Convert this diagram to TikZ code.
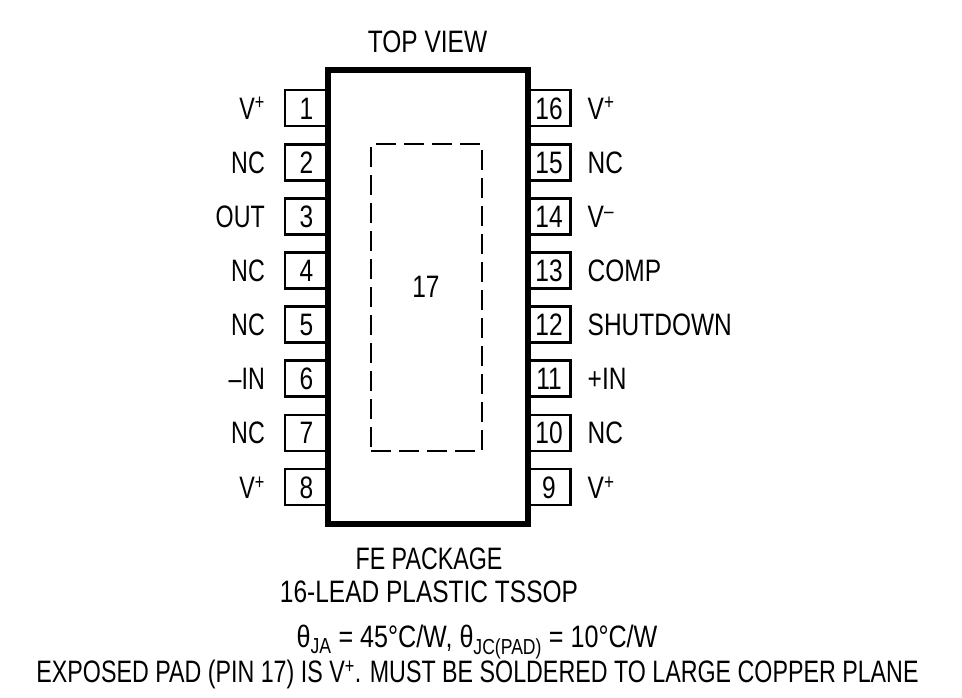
\documentclass[tikz,border=0pt]{standalone}
\usepackage{fontspec}
\setmainfont{Liberation Sans}[FakeStretch=0.79]
\newfontfamily\notefont{Liberation Sans}[FakeStretch=0.75]
\newfontfamily\thetafont{Liberation Sans}[FakeStretch=0.81]
\usetikzlibrary{positioning}
\tikzstyle{pinbox}=[rectangle, draw=black, line width=2.7pt, minimum width=43pt, minimum height=36pt, inner sep=0pt, outer sep=0pt, font=\fontsize{31}{31}\selectfont, text height=22pt, text depth=0pt]
\tikzstyle{rlabel}=[xshift=-3pt, font=\fontsize{31}{31}\selectfont]
\tikzstyle{body}=[rectangle, draw=black, fill=white, line width=6pt, minimum width=200pt, minimum height=453.5pt, inner sep=0pt]
\tikzstyle{pad}=[rectangle, draw=black, line width=2.2pt, dash pattern=on 20pt off 8pt, minimum width=111pt, minimum height=307pt, inner sep=0pt]
\tikzstyle{caption}=[font=\fontsize{31}{31}\selectfont, inner sep=0pt]
\tikzstyle{note}=[font=\notefont\fontsize{31}{31}\selectfont, inner sep=0pt]

\begin{document}
\begin{tikzpicture}[x=1pt, y=-1pt, node distance=54.15pt, label distance=20pt,
    every label/.style={font=\notefont\fontsize{31}{31}\selectfont, inner sep=0pt, text height=22pt, text depth=0pt}]
      \useasboundingbox (0,0) rectangle (962,697);

      \node[pinbox] (p1) [label=left:V\textsuperscript{+}] at (306.5,108) {1};
      \node[pinbox] (p2) [below of=p1,label=left:NC] {2};
      \node[pinbox] (p3) [below of=p2,label=left:OUT] {3};
      \node[pinbox] (p4) [below of=p3,label=left:NC] {4};
      \node[pinbox] (p5) [below of=p4,label=left:NC] {5};
      \node[pinbox] (p6) [below of=p5,label=left:–IN] {6};
      \node[pinbox] (p7) [below of=p6,label=left:NC] {7};
      \node[pinbox] (p8) [below of=p7,label=left:V\textsuperscript{+}] {8};

      \node[pinbox] (p16) [label={[rlabel]right:V\textsuperscript{+}}] at (549,108) {16};
      \node[pinbox] (p15) [below of=p16,label={[rlabel]right:NC}] {15};
      \node[pinbox] (p14) [below of=p15,label={[rlabel]right:V\textsuperscript{–}}] {14};
      \node[pinbox] (p13) [below of=p14,label={[rlabel]right:COMP}] {13};
      \node[pinbox] (p12) [below of=p13,label={[rlabel]right:SHUTDOWN}] {12};
      \node[pinbox] (p11) [below of=p12,label={[rlabel]right:+IN}] {11};
      \node[pinbox] (p10) [below of=p11,label={[rlabel]right:NC}] {10};
      \node[pinbox] (p9) [below of=p10,label={[rlabel]right:V\textsuperscript{+}}] {9};

      \node[body] (chip) at (428,297) {};
      \node[pad] (pad17) at (426.5,297.5) {};
      \node[caption] (num17) at (426,287) {17};

      \node[caption] (topview) at (427.5,42) {TOP VIEW};
      \node[note] (package) at (429,559) {FE PACKAGE};
      \node[caption] (lead) at (429,592) {16-LEAD PLASTIC TSSOP};
      \node[caption,font=\thetafont\fontsize{31}{31}\selectfont] (theta) at (477,642) {θ\textsubscript{JA} = 45°C/W, θ\textsubscript{JC(PAD)} = 10°C/W};
      \node[note] (exposed) at (477.5,674) {EXPOSED PAD (PIN 17) IS V\textsuperscript{+}. MUST BE SOLDERED TO LARGE COPPER PLANE};
    \end{tikzpicture}
\end{document}
